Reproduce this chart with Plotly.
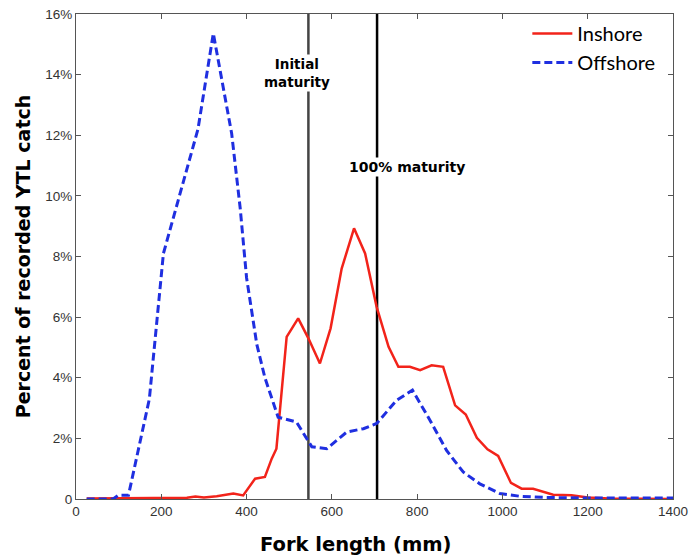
import plotly.graph_objects as go

# Fork length (mm) and percent of recorded catch
inshore_x = [25, 100, 200, 260, 280, 300, 330, 369, 392, 420, 443, 459, 470, 494, 521, 545, 572, 597,
             623, 652, 678, 705, 733, 756, 783, 807, 834, 861, 889, 914, 940, 965, 990, 1020, 1045,
             1072, 1119, 1162, 1200, 1250, 1400]
inshore_y = [0.02, 0.03, 0.02, 0.04, 0.08, 0.05, 0.09, 0.18, 0.12, 0.67, 0.73, 1.33, 1.66, 5.35, 5.96,
             5.3, 4.47, 5.63, 7.6, 8.93, 8.1, 6.34, 5.02, 4.36, 4.36, 4.25, 4.41, 4.36, 3.09, 2.79, 2.02,
             1.64, 1.42, 0.53, 0.34, 0.34, 0.14, 0.12, 0.05, 0.02, 0.0]

offshore_x = [25, 87, 99, 123, 172, 205, 286, 322, 365, 385, 400, 412, 424, 443, 474, 517, 553, 588,
              635, 674, 705, 752, 789, 830, 869, 908, 947, 994, 1041, 1100, 1200, 1400]
offshore_y = [0.0, 0.0, 0.12, 0.12, 3.3, 8.1, 12.2, 15.36, 12.06, 9.6, 7.3, 6.2, 5.1, 4.0, 2.7, 2.54,
              1.72, 1.66, 2.21, 2.32, 2.49, 3.26, 3.59, 2.6, 1.6, 0.89, 0.5, 0.18, 0.09, 0.05, 0.03, 0.03]

maturity_x = [545, 706]
maturity_labels = ["Initial<br>maturity", "100% maturity"]

x_ticks = [0, 200, 400, 600, 800, 1000, 1200, 1400]
y_ticks = [0, 2, 4, 6, 8, 10, 12, 14, 16]
y_ticktext = ["0", "2%", "4%", "6%", "8%", "10%", "12%", "14%", "16%"]

fig = go.Figure()
fig.add_trace(go.Scatter(x=inshore_x, y=inshore_y, mode="lines", name="Inshore",
                         line=dict(color="#f2231a", width=2.5)))
fig.add_trace(go.Scatter(x=offshore_x, y=offshore_y, mode="lines", name="Offshore",
                         line=dict(color="#1f2fe0", width=3, dash="8px,4px")))

line_colors = ["#444444", "#000000"]
for xv, col in zip(maturity_x, line_colors):
    fig.add_shape(type="line", x0=xv, x1=xv, y0=0, y1=16, xref="x", yref="y",
                  line=dict(color=col, width=2.5), layer="below")

fig.add_annotation(x=519, y=14.05, xref="x", yref="y", text="<b>" + maturity_labels[0] + "</b>",
                   showarrow=False, bgcolor="white", align="center",
                   font=dict(family="DejaVu Sans", size=13.5, color="black"))
fig.add_annotation(x=776, y=10.95, xref="x", yref="y", text="<b>" + maturity_labels[1] + "</b>",
                   showarrow=False, bgcolor="white", align="center",
                   font=dict(family="DejaVu Sans", size=14, color="black"))

# x axis title, placed slightly left of centre as in the original
fig.add_annotation(x=0.469, y=0, xref="paper", yref="paper", yanchor="top", yshift=-32,
                   text="<b>Fork length (mm)</b>", showarrow=False,
                   font=dict(family="DejaVu Sans", size=19.5, color="black"))

fig.update_layout(
    width=690, height=558,
    margin=dict(l=76, r=17, t=14, b=59),
    plot_bgcolor="white", paper_bgcolor="white",
    showlegend=True,
    legend=dict(x=0.756, y=1.0, xanchor="left", yanchor="top", bgcolor="rgba(0,0,0,0)",
                font=dict(family="Lato", size=20, color="black"), tracegroupgap=0,
                itemwidth=40),
    xaxis=dict(range=[0, 1400], tickvals=x_ticks, ticks="inside", ticklen=5, tickcolor="#555",
               showline=True, linecolor="#555", linewidth=1.2, mirror="ticks", showgrid=False,
               zeroline=False, automargin=False,
               tickfont=dict(family="Arial", size=13.5, color="#333")),
    yaxis=dict(range=[0, 16], tickvals=y_ticks, ticktext=y_ticktext, ticks="inside", ticklen=5,
               tickcolor="#555", showline=True, linecolor="#555", linewidth=1.2, mirror="ticks",
               showgrid=False, zeroline=False, automargin=False,
               tickfont=dict(family="Arial", size=13.5, color="#333"),
               title=dict(text="<b>Percent of recorded YTL catch</b>", standoff=9,
                          font=dict(family="DejaVu Sans", size=19, color="black"))),
)

fig.write_html("out.html")
